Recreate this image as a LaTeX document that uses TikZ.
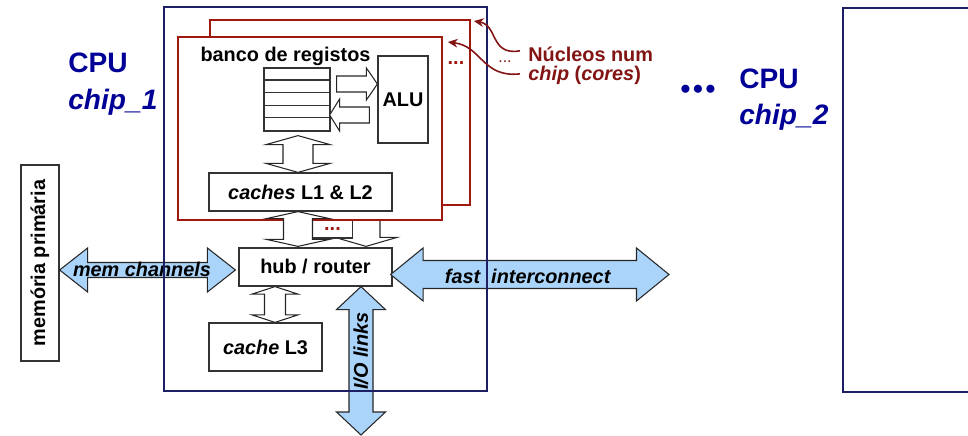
\documentclass[tikz,border=0pt]{standalone}
\usepackage{fontspec}
\setmainfont{Liberation Sans}
\usetikzlibrary{calc,arrows.meta}

\definecolor{chipblue}{RGB}{30,30,100}
\definecolor{cpublue}{RGB}{0,0,150}
\definecolor{corered}{RGB}{160,25,15}
\definecolor{labelred}{RGB}{130,20,20}
\definecolor{linkblue}{RGB}{170,212,250}

% vertical double block arrow: top tip, bottom tip, shaft half, head half, head length
\newcommand{\vdarrow}[6][hollow]{%
  \draw[#1] (#2) -- ($(#2)+(#5,#6)$) -- ($(#2)+(#4,#6)$) -- ($(#3)+(#4,-#6)$) -- ($(#3)+(#5,-#6)$) -- (#3)
    -- ($(#3)+(-#5,-#6)$) -- ($(#3)+(-#4,-#6)$) -- ($(#2)+(-#4,#6)$) -- ($(#2)+(-#5,#6)$) -- cycle;}
% horizontal double block arrow: left tip, right tip, shaft half, head half, head length
\newcommand{\hdarrow}[6][link]{%
  \draw[#1] (#2) -- ($(#2)+(#6,-#5)$) -- ($(#2)+(#6,-#4)$) -- ($(#3)+(-#6,-#4)$) -- ($(#3)+(-#6,-#5)$) -- (#3)
    -- ($(#3)+(-#6,#5)$) -- ($(#3)+(-#6,#4)$) -- ($(#2)+(#6,#4)$) -- ($(#2)+(#6,#5)$) -- cycle;}
% horizontal single block arrow: tail, tip, shaft half, head half, head offset from tip
\newcommand{\harrow}[6][hollow]{%
  \draw[#1] ($(#2)+(0,-#4)$) -- ($(#3)+(#6,-#4)$) -- ($(#3)+(#6,-#5)$) -- (#3)
    -- ($(#3)+(#6,#5)$) -- ($(#3)+(#6,#4)$) -- ($(#2)+(0,#4)$) -- cycle;}

\begin{document}
\begin{tikzpicture}[x=0.02cm,y={(0cm,-0.02cm)},
    font=\fontsize{11.3}{13.6}\selectfont\bfseries,
    box/.style={draw=black!80,line width=0.7pt,fill=white,inner sep=0pt},
    core/.style={draw=corered,line width=1.1pt,fill=white,inner sep=0pt},
    chip/.style={draw=chipblue,line width=1.2pt,inner sep=0pt},
    hollow/.style={draw=black!85,line width=0.6pt,fill=white},
    link/.style={draw=black!85,line width=0.6pt,fill=linkblue},
    cpu/.style={text=cpublue,inner sep=0pt,font=\fontsize{16}{19}\selectfont\bfseries},
    note/.style={text=labelred,inner sep=0pt},
    pointer/.style={-{Stealth[length=5.5pt,width=5pt]},draw=labelred,line width=0.9pt}]
  \useasboundingbox (0,0) rectangle (968,436);

  % second core (behind) and its link to the hub
  \node[core,minimum width=5.2cm,minimum height=3.7cm] (back) at (340,112.5) {};
  \node[box,minimum width=3.06cm,minimum height=0.76cm] (hub) at (315.5,267) {hub / router};
  \coordinate (b1) at ($(back.south)+(26,0)$);
  \coordinate (b2) at ($(hub.north)+(50.5,-1)$);
  \vdarrow{b1}{b2}{14}{31}{9}
  \node[box,text=corered,minimum width=0.79cm,minimum height=0.36cm] (more) at (332.5,229) {...};

  % first core
  \node[core,minimum width=5.28cm,minimum height=3.66cm] (front) at (310,128.5) {};
  \node (banco) at (285.5,56) {banco de registos};
  \node[box,minimum width=1.32cm,minimum height=1.26cm] (stack) at (297,99.5) {};
  \foreach \k in {1,...,4}
    \draw[black!80,line width=0.7pt] ($(stack.north west)+(0,12.6*\k)$) -- ($(stack.north east)+(0,12.6*\k)$);
  \node[box,minimum width=1cm,minimum height=1.74cm] (alu) at (403,99.5) {ALU};
  \coordinate (r1) at ($(stack.east)+(6,-15.5)$);
  \coordinate (r2) at ($(alu.west)+(0,-15.5)$);
  \harrow{r1}{r2}{8}{16}{-11}
  \coordinate (l1) at ($(alu.west)+(-8,15.5)$);
  \coordinate (l2) at ($(stack.east)+(-1,15.5)$);
  \harrow{l1}{l2}{8}{16}{10}
  \node[box,minimum width=3.66cm,minimum height=0.76cm] (caches) at (300.5,192) {\textit{caches} L1 \& L2};
  \coordinate (s1) at ($(stack.south)+(1,4)$);
  \coordinate (s2) at (caches.north -| s1);
  \vdarrow{s1}{s2}{15}{32}{9}
  \coordinate (c1) at (caches.south -| s1);
  \coordinate (c2) at ($(hub.north -| s1)+(0,-1)$);
  \vdarrow{c1}{c2}{14.5}{31.5}{7}
  \node[text=corered] (dotsA) at (456,63) {...};
  \node[note,font=\fontsize{9}{11}\selectfont] (dotsB) at (505,62) {...};

  % cache L3
  \node[box,minimum width=2.26cm,minimum height=0.96cm] (l3) at (265.5,347) {\textit{cache} L3};
  \coordinate (h1) at ($(hub.south)+(-40.5,0)$);
  \coordinate (h2) at (l3.north -| h1);
  \vdarrow{h1}{h2}{10.5}{23}{7.5}

  % outside links
  \node[box,rotate=90,minimum width=3.92cm,minimum height=0.76cm] (mem) at (40,263) {memória primária};
  \coordinate (m1) at ($(mem.south)+(0,7)$);
  \coordinate (m2) at ($(hub.west)+(-3,3)$);
  \hdarrow{m1}{m2}{7.5}{22}{28}
  \node (memch) at (142,269) {\textit{mem channels}};
  \coordinate (f1) at ($(hub.east)+(-2,7.5)$);
  \coordinate (f2) at (669,274.5);
  \hdarrow{f1}{f2}{14}{26.5}{32.5}
  \node (fastic) at (528,276) {\textit{fast~~interconnect}};
  \coordinate (i1) at ($(hub.south)+(45.5,0)$);
  \coordinate (i2) at (361,435);
  \vdarrow[link]{i1}{i2}{12}{24.5}{23}
  \node[rotate=90] (iolinks) at (361,351) {\textit{I/O links}};

  % chips
  \node[chip,minimum width=6.46cm,minimum height=7.68cm] (chipA) at (325.5,199) {};
  \node[chip,minimum width=3cm,minimum height=7.68cm,anchor=north west] (chipB) at (842,7) {};
  \node[cpu,anchor=base west] (cpuA) at (68,72) {CPU};
  \node[cpu,anchor=base west] (chipnameA) at (68,109) {\textit{chip\_1}};
  \node[cpu,anchor=base west] (cpuB) at (739,88) {CPU};
  \node[cpu,anchor=base west] (chipnameB) at (739,124) {\textit{chip\_2}};
  \node[cpu] (moreB) at (698,92) {•\kern1.5pt•\kern1.5pt•};

  % cores label
  \node[note,anchor=base west] (nucleos) at (528,61) {Núcleos num};
  \node[note,anchor=base west] (coresl) at (528,80) {\textit{chip} (\textit{cores})};
  \draw[pointer] ($(nucleos.west)+(-8,-3)$) .. controls (490,56) and (498,25) .. ($(back.north east)+(3,2)$);
  \draw[pointer] ($(coresl.west)+(-8,-1)$) .. controls (482,78) and (482,46) .. ($(front.north east)+(5,6)$);
\end{tikzpicture}
\end{document}
